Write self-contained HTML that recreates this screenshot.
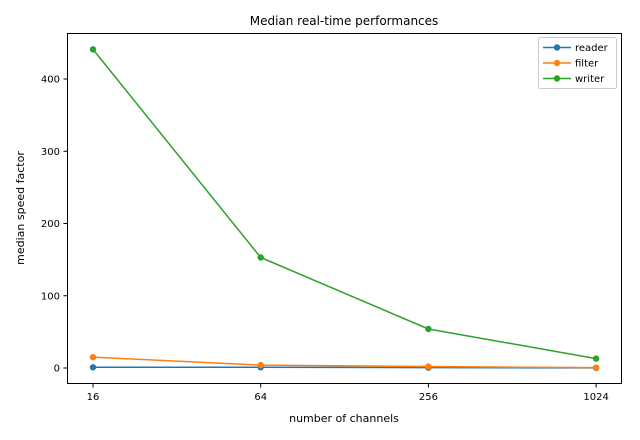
<!DOCTYPE html>
<html><head><meta charset="utf-8"><style>
body{margin:0;background:#fff}
svg{display:block;font-family:"DejaVu Sans","Liberation Sans",sans-serif}
</style></head><body>
<svg id="chart" width="640" height="440">
<rect x="0" y="0" width="640" height="440" fill="#fff"/>
<text x="344" y="25" font-size="12" text-anchor="middle">Median real-time performances</text>
<g id="marks"></g>
<rect x="67.5" y="33.5" width="554" height="350" fill="none" stroke="#000" stroke-width="1"/>
<text x="344" y="422" font-size="11" text-anchor="middle">number of channels</text>
<text transform="translate(24,208) rotate(-90)" font-size="11" text-anchor="middle">median speed factor</text>
<g>
<rect x="538.5" y="37.5" width="78" height="51" fill="#fff" stroke="#ccc" rx="2"/>
</g>
</svg>
<script>
const categories=[16,64,256,1024];
const seriesNames=["reader","filter","writer"];
const readerValues=[1,1,0.5,0.2];
const filterValues=[15,4,2,0.5];
const writerValues=[441,153,54,13];
const yTicks=[0,100,200,300,400];
const colors=["#1f77b4","#ff7f0e","#2ca02c"];
const NS="http://www.w3.org/2000/svg";
const svg=document.getElementById('chart');
const g=document.getElementById('marks');
function xs(v){return 93+(Math.log2(v)-4)/2*167.7;}
function ys(v){return 368-v*0.7225;}
function mk(t,a,p){const e=document.createElementNS(NS,t);for(const k in a)e.setAttribute(k,a[k]);(p||g).appendChild(e);return e;}
categories.forEach(c=>{
  const x=xs(c);
  const t=mk('line',{x1:x,x2:x,y1:384,y2:387.5,stroke:'#000'},svg);
  
  
  const l=mk('text',{x:x,y:400,'font-size':10,'text-anchor':'middle'},svg);
  l.textContent=c;
  
  
});
yTicks.forEach(v=>{
  const y=ys(v);
  const t=mk('line',{x1:63.5,x2:67,y1:y,y2:y,stroke:'#000'},svg);
  
  
  const l=mk('text',{x:60,y:y+3.5,'font-size':10,'text-anchor':'end'},svg);
  l.textContent=v;
  
  
});
[readerValues,filterValues,writerValues].forEach((vals,i)=>{
  const pts=vals.map((v,j)=>xs(categories[j])+','+ys(v)).join(' ');
  const pl=mk('polyline',{points:pts,fill:'none',stroke:colors[i],'stroke-width':1.5});
  
  
  vals.forEach((v,j)=>{
    const c=mk('circle',{cx:xs(categories[j]),cy:ys(v),r:3.2,fill:colors[i]});
    
    
  });
  const ly=47.5+i*15.5;
  const ll=mk('line',{x1:543,x2:571,y1:ly,y2:ly,stroke:colors[i],'stroke-width':1.5},svg);
  
  
  const lc=mk('circle',{cx:557,cy:ly,r:3.2,fill:colors[i]},svg);
  
  
  const lt=mk('text',{x:575,y:ly+3.5,'font-size':10},svg);
  lt.textContent=seriesNames[i];
  
  
});
</script>
</body></html>
